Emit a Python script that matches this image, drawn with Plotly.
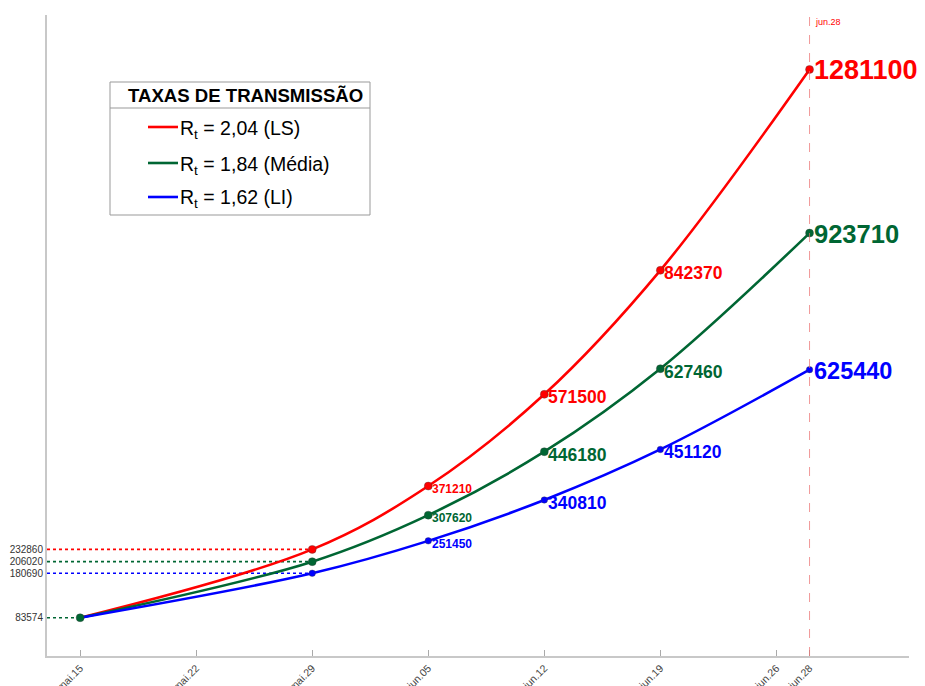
import plotly.graph_objects as go

# ---- data ----
dates = ['2020-05-15', '2020-05-29', '2020-06-05', '2020-06-12', '2020-06-19', '2020-06-28']
ls_vals = [83574, 232860, 371210, 571500, 842370, 1281100]
media_vals = [83574, 206020, 307620, 446180, 627460, 923710]
li_vals = [83574, 180690, 251450, 340810, 451120, 625440]

tick_dates = ['2020-05-15', '2020-05-22', '2020-05-29', '2020-06-05',
              '2020-06-12', '2020-06-19', '2020-06-26', '2020-06-28']
tick_text = ['mai.15', 'mai.22', 'mai.29', 'jun.05', 'jun.12', 'jun.19', 'jun.26', 'jun.28']
y_ticks = [83574, 180690, 206020, 232860]

series_names = ['R<sub>t</sub> = 2,04 (LS)', 'R<sub>t</sub> = 1,84 (Média)', 'R<sub>t</sub> = 1,62 (LI)']
legend_title = 'TAXAS DE TRANSMISSÃO'

RED = '#FF0000'
GREEN = '#006633'
BLUE = '#0000FF'
FONT = 'Liberation Sans, Arial, Helvetica, sans-serif'

series = [(ls_vals, RED, 8, [None, None, 12, 17.5, 17.5, 27]),
          (media_vals, GREEN, 8, [None, None, 12, 17.5, 17.5, 25.5]),
          (li_vals, BLUE, 6.5, [None, None, 12, 17.5, 17.5, 23.5])]

x_start = '2020-05-13'
x_end = '2020-07-04'

fig = go.Figure()

# dotted reference lines
for vals, col, _, _ in series:
    fig.add_trace(go.Scatter(x=[x_start, dates[1]], y=[vals[1], vals[1]], mode='lines',
                             line=dict(color=col, width=1.6, dash='dot'),
                             showlegend=False, hoverinfo='skip'))
fig.add_trace(go.Scatter(x=[x_start, dates[0]], y=[media_vals[0], media_vals[0]], mode='lines',
                         line=dict(color=GREEN, width=1.6, dash='dot'),
                         showlegend=False, hoverinfo='skip'))

# curves
for vals, col, _, _ in series:
    fig.add_trace(go.Scatter(x=dates, y=vals, mode='lines',
                             line=dict(color=col, width=2.6, shape='spline', smoothing=1.0),
                             showlegend=False))
# markers
for vals, col, ms, _ in series:
    fig.add_trace(go.Scatter(x=dates[1:], y=vals[1:], mode='markers',
                             marker=dict(color=col, size=ms, line=dict(color='rgba(60,60,60,0.6)', width=0.6)),
                             showlegend=False))
fig.add_trace(go.Scatter(x=[dates[0]], y=[media_vals[0]], mode='markers',
                         marker=dict(color=GREEN, size=8, line=dict(color='rgba(60,60,60,0.6)', width=0.6)),
                         showlegend=False))

annotations = []
for vals, col, _, sizes in series:
    for d, v, s in zip(dates, vals, sizes):
        if s is None:
            continue
        annotations.append(dict(x=d, y=v, xref='x', yref='y', text='<b>%d</b>' % v,
                                showarrow=False, xanchor='left', yanchor='middle',
                                xshift=2, yshift=-3 if s < 20 else -1,
                                font=dict(family=FONT, size=s, color=col)))

annotations.append(dict(x=dates[-1], y=0.989, xref='x', yref='paper', text='jun.28',
                        showarrow=False, xanchor='left', yanchor='middle', xshift=3,
                        font=dict(family=FONT, size=9, color=RED)))

# custom legend
L, T, W, H = 47, 15, 862, 641
def px(xp):
    return (xp - L) / W
def py(yp):
    return (T + H - yp) / H

shapes = []
shapes.append(dict(type='line', xref='x', yref='paper', x0=dates[-1], x1=dates[-1], y0=0, y1=1,
                   line=dict(color='rgba(235,110,110,0.7)', width=1, dash='dash')))
shapes.append(dict(type='rect', xref='paper', yref='paper', x0=px(110), x1=px(370), y0=py(215), y1=py(82),
                   line=dict(color='#999', width=1), fillcolor='white', layer='above'))
shapes.append(dict(type='line', xref='paper', yref='paper', x0=px(110), x1=px(370), y0=py(108), y1=py(108),
                   line=dict(color='#999', width=1), layer='above'))
annotations.append(dict(x=px(245), y=py(95), xref='paper', yref='paper', text='<b>%s</b>' % legend_title,
                        showarrow=False, xanchor='center', yanchor='middle',
                        font=dict(family=FONT, size=18.6, color='black')))
legend_y = [127, 163, 197]
for (vals, col, _, _), name, ly in zip(series, series_names, legend_y):
    shapes.append(dict(type='line', xref='paper', yref='paper', x0=px(148), x1=px(178), y0=py(ly), y1=py(ly),
                       line=dict(color=col, width=2.6), layer='above'))
    annotations.append(dict(x=px(178), y=py(ly + 2), xref='paper', yref='paper', text=name,
                            showarrow=False, xanchor='left', yanchor='middle',
                            font=dict(family=FONT, size=19.5, color='black')))

fig.update_layout(
    width=925, height=686,
    margin=dict(l=L, r=925 - L - W, t=T, b=686 - T - H),
    paper_bgcolor='white', plot_bgcolor='white',
    showlegend=False,
    font=dict(family=FONT),
    shapes=shapes, annotations=annotations,
    xaxis=dict(type='date', range=[x_start, x_end], tickmode='array', tickvals=tick_dates,
               ticktext=tick_text, tickangle=-45, ticks='inside', ticklen=6, tickcolor='#aaa',
               tickwidth=1, showline=True, linecolor='#c8c8c8', linewidth=2, showgrid=False,
               zeroline=False, automargin=False, tickfont=dict(family=FONT, size=10.5, color='#444')),
    yaxis=dict(range=[0, 1400000], tickmode='array', tickvals=y_ticks,
               ticktext=[str(v) for v in y_ticks], ticks='', showline=True, linecolor='#c8c8c8',
               linewidth=2, showgrid=False, zeroline=False, automargin=False,
               tickfont=dict(family=FONT, size=10, color='#333')),
)

fig.write_html('out.html', config={'displayModeBar': False},
               post_script="document.body.style.margin='0';document.body.style.overflow='hidden';")
